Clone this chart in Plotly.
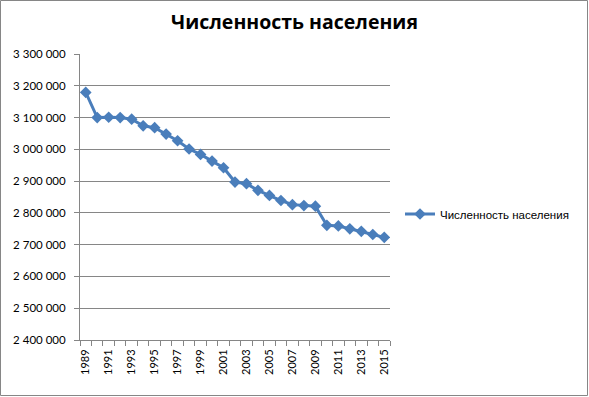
import plotly.graph_objects as go

years = list(range(1989, 2016))
population = [3179000, 3100000, 3101000, 3100000, 3095000, 3074000, 3068000, 3048000,
              3027000, 3001000, 2984000, 2963000, 2942000, 2897000, 2892000, 2871000,
              2855000, 2839000, 2826000, 2823000, 2821000, 2761000, 2759000, 2750000,
              2742000, 2732000, 2723000]
series_name = "Численность населения"
title_text = "Численность населения"
label_years = list(range(1989, 2016, 2))

W, H = 589, 397
ml, mr, mt, mb = 80, 199, 54, 57
pw, ph = W - ml - mr, H - mt - mb

color = "#4A7EBB"
font = "Liberation Sans, Arial, sans-serif"
tickfam = "Lato, Liberation Sans, sans-serif"

fig = go.Figure()
fig.add_trace(go.Scatter(
    x=years, y=population, name=series_name, mode="lines+markers",
    line=dict(color=color, width=3),
    marker=dict(symbol="diamond", size=9, color=color),
))

fig.update_layout(
    width=W, height=H,
    margin=dict(l=ml, r=mr, t=mt, b=mb, autoexpand=False),
    paper_bgcolor="white", plot_bgcolor="white",
    separators=", ",
    title=dict(text="<b>" + title_text + "</b>", x=0.5, xanchor="center",
               y=1 - 22 / H, yanchor="middle",
               font=dict(family="Open Sans, sans-serif", size=19.5, color="black")),
    showlegend=True,
    legend=dict(x=(400 - ml) / pw, y=(H - mb - 214) / ph, xanchor="left", yanchor="middle",
                font=dict(family=font, size=11.5, color="black"),
                bgcolor="rgba(0,0,0,0)", itemwidth=30),
    font=dict(family=font, size=10, color="black"),
)

fig.update_xaxes(
    range=[1988.5, 2015.5],
    tickmode="array", tickvals=label_years, ticktext=[str(y) for y in label_years],
    tickangle=-90, ticks="", showgrid=False,
    showline=True, linecolor="#868686", linewidth=1,
    tickfont=dict(family=tickfam, size=11, color="black"),
    ticklabelstandoff=4,
    minor=dict(tickmode="linear", tick0=1988.5, dtick=1, ticks="outside",
               ticklen=5, tickcolor="#868686", showgrid=False),
    zeroline=False,
)
fig.update_yaxes(
    range=[2400000, 3300000], dtick=100000, tick0=2400000,
    tickformat=",d",
    showgrid=True, gridcolor="#868686", gridwidth=1,
    showline=True, linecolor="#868686", linewidth=1,
    ticks="outside", ticklen=5, tickcolor="#868686",
    tickfont=dict(family=tickfam, size=11.5, color="black"),
    ticklabelstandoff=6,
    zeroline=False,
)

# outer chart border
fig.add_shape(type="rect", xref="paper", yref="paper",
              x0=(0.5 - ml) / pw, x1=(587.5 - ml) / pw,
              y0=(H - mb - 395.5) / ph, y1=(H - mb - 0.5) / ph,
              line=dict(color="#868686", width=1), fillcolor="rgba(0,0,0,0)", layer="below")

fig.write_html("out.html", config={"displayModeBar": False},
               post_script="document.body.style.margin='0';document.body.style.padding='0';")
